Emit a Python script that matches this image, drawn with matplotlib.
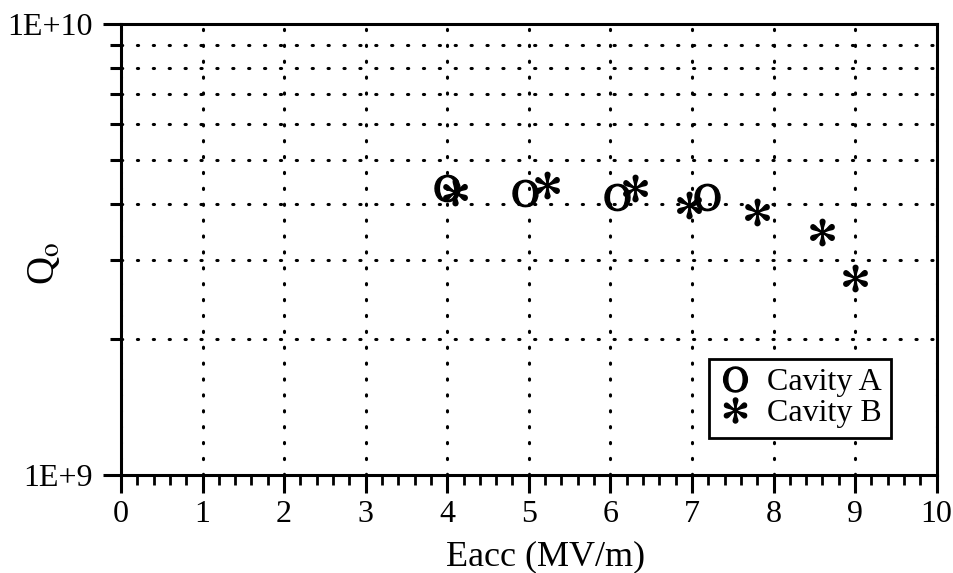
import matplotlib
matplotlib.use('Agg')
import matplotlib.pyplot as plt
from matplotlib.ticker import FixedLocator, MultipleLocator, FixedFormatter, NullFormatter

plt.rcParams['font.family'] = ['Liberation Serif', 'DejaVu Serif']
plt.rcParams['mathtext.fontset'] = 'stix'

# Qo vs accelerating field for two cavities
eacc_a = [4.0, 4.95, 6.08, 7.18]
q0_a = [4.33e9, 4.22e9, 4.13e9, 4.13e9]

eacc_b = [4.1, 5.22, 6.3, 6.97, 7.8, 8.6, 9.0]
q0_b = [4.24e9, 4.40e9, 4.33e9, 3.97e9, 3.83e9, 3.46e9, 2.73e9]

y_ticks = [1e9, 1e10]
y_tick_labels = ['1E+9', '1E+10']

fig = plt.figure(figsize=(9.54, 5.73), dpi=100)
ax = fig.add_axes([0.1268, 0.171, 0.855, 0.787])

ax.plot(eacc_a, q0_a, linestyle='none', marker=r'$\mathrm{O}$', markersize=19,
        color='black', markeredgewidth=1.0, label='Cavity A')
ax.plot(eacc_b, q0_b, linestyle='none', marker=r'$\mathrm{*}$', markersize=19,
        color='black', markeredgewidth=1.0, label='Cavity B')

ax.set_yscale('log')
ax.set_xlim(0, 10)
ax.set_ylim(1e9, 1e10)

ax.xaxis.set_major_locator(MultipleLocator(1))
ax.xaxis.set_minor_locator(MultipleLocator(0.2))
ax.yaxis.set_major_locator(FixedLocator(y_ticks))
ax.yaxis.set_major_formatter(FixedFormatter(y_tick_labels))
ax.yaxis.set_minor_locator(FixedLocator([k * 1e9 for k in range(2, 10)]))
ax.yaxis.set_minor_formatter(NullFormatter())

ax.tick_params(axis='both', which='major', direction='out', length=13, width=2.2,
               labelsize=23, colors='black')
ax.tick_params(axis='x', which='minor', direction='out', length=7, width=2)
ax.tick_params(axis='y', which='minor', direction='out', length=8, width=2.2)
ax.tick_params(axis='x', which='major', pad=5)
ax.tick_params(axis='y', which='major', pad=7)

for s in ax.spines.values():
    s.set_linewidth(2.2)

grid_kw = dict(color='black', linestyle=(0, (0.4, 4.8)), linewidth=2.2,
               dash_capstyle='round')
ax.grid(which='major', axis='x', **grid_kw)
ax.grid(which='minor', axis='y', **grid_kw)
ax.grid(which='major', axis='y', visible=False)

ax.set_xlabel('Eacc (MV/m)', fontsize=26)
ax.xaxis.set_label_coords(0.52, -0.145)
ax.set_ylabel(r'Q$_{\mathrm{o}}$', fontsize=28)
ax.yaxis.set_label_coords(-0.071, 0.47)

leg = ax.legend(loc='lower right', bbox_to_anchor=(0.944, 0.082), fontsize=23,
                frameon=True, fancybox=False, edgecolor='black', framealpha=1,
                handlelength=1.0, handletextpad=0.5, borderpad=0.3,
                labelspacing=0.05, borderaxespad=0, markerscale=0.95)
leg.get_frame().set_linewidth(2)

fig.savefig('out.png', dpi=100)
